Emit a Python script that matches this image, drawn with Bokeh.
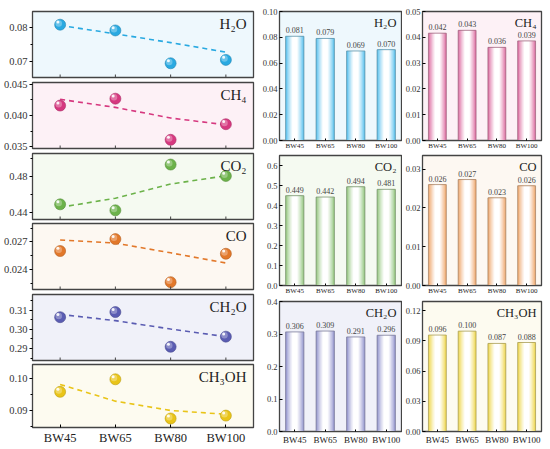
import math
from bokeh.plotting import figure
from bokeh.models import FactorRange, Range1d, FixedTicker, PrintfTickFormatter, Label, ColumnDataSource
from bokeh.layouts import row, column
from bokeh.transform import dodge
from bokeh.core.properties import value
from bokeh.embed import file_html
from bokeh.resources import INLINE

samples = ["BW45", "BW65", "BW80", "BW100"]
species = ["H₂O", "CH₄", "CO₂", "CO", "CH₂O", "CH₃OH"]

# mole fractions
h2o = [0.0808, 0.0791, 0.0694, 0.0704]
ch4 = [0.0416, 0.0427, 0.0361, 0.0386]
co2 = [0.4490, 0.4423, 0.4936, 0.4808]
co = [0.0260, 0.0273, 0.0226, 0.0257]
ch2o = [0.3064, 0.3091, 0.2909, 0.2962]
ch3oh = [0.0957, 0.0996, 0.0874, 0.0883]

# dashed trend lines
h2o_trend = [0.0806, 0.0781, 0.0755, 0.0727]
ch4_trend = [0.0426, 0.0413, 0.0396, 0.0385]
co2_trend = [0.4456, 0.4559, 0.4717, 0.4811]
co_trend = [0.0272, 0.02686, 0.0258, 0.02469]
ch2o_trend = [0.3079, 0.3046, 0.3002, 0.2962]
ch3oh_trend = [0.0980, 0.0928, 0.0899, 0.0887]

series = [h2o, ch4, co2, co, ch2o, ch3oh]
trends = [h2o_trend, ch4_trend, co2_trend, co_trend, ch2o_trend, ch3oh_trend]

left_ranges = [(0.0652, 0.0847), (0.0347, 0.0453), (0.432, 0.506),
               (0.0218, 0.0290), (0.2837, 0.3183), (0.0846, 0.1042)]
left_ticks = [[0.07, 0.08], [0.035, 0.040, 0.045], [0.44, 0.48],
              [0.024, 0.027], [0.29, 0.30, 0.31], [0.09, 0.10]]
left_fmt = ["%.2f", "%.3f", "%.2f", "%.3f", "%.2f", "%.2f"]

bar_tops = [0.10, 0.05, 0.65, 0.0335, 0.40, 0.129]
bar_ticks = [[0, 0.02, 0.04, 0.06, 0.08, 0.10], [0, 0.01, 0.02, 0.03, 0.04, 0.05],
             [0, 0.1, 0.2, 0.3, 0.4, 0.5, 0.6], [0, 0.01, 0.02, 0.03],
             [0, 0.1, 0.2, 0.3, 0.4], [0, 0.03, 0.06, 0.09, 0.12]]
bar_fmt = ["%.2f", "%.2f", "%.1f", "%.2f", "%.1f", "%.2f"]

point_colors = ["#29a9e1", "#d6387f", "#6cb24a", "#e2782a", "#5a5cb2", "#e9c418"]
bar_colors = ["#55c0ee", "#dc6a9f", "#92c67d", "#eea56a", "#9193cd", "#eed64a"]
bg_colors = ["#eef8fd", "#fdf1f6", "#f5faf1", "#fdf8f2", "#f0f1f9", "#fdfbf0"]

SERIF = "Liberation Serif"
FRAME = "#444444"


def hex2rgb(h):
    h = h.lstrip("#")
    return tuple(int(h[i:i + 2], 16) for i in (0, 2, 4))


def mix(c1, c2, t):
    a, b = hex2rgb(c1), hex2rgb(c2)
    return "#%02x%02x%02x" % tuple(round(a[k] + (b[k] - a[k]) * t) for k in range(3))


def minor_of(ticks):
    step = ticks[1] - ticks[0]
    out = [ticks[0] - step / 2]
    for a in ticks:
        out.append(a + step / 2)
    return out


def line_panel(i, height, top, bottom, last):
    lo, hi = left_ranges[i]
    p = figure(width=258, height=height, x_range=FactorRange(*samples), y_range=Range1d(lo, hi),
               output_backend="svg", toolbar_location=None,
               min_border_left=30, min_border_right=5, min_border_top=top, min_border_bottom=bottom,
               background_fill_color=bg_colors[i], border_fill_color="white",
               outline_line_color=FRAME, outline_line_width=1.3)
    p.grid.grid_line_color = None
    src = ColumnDataSource(dict(x=samples, y=series[i], t=trends[i], base=[lo] * len(samples)))
    c = point_colors[i]
    span = hi - lo
    p.line("x", "t", source=src, line_color=c, line_width=1.6, line_dash="5 4")
    p.scatter("x", "y", source=src, size=11, fill_color=c, line_color=mix(c, "#000000", 0.2), line_width=0.6)
    p.scatter(x=dodge("x", -0.025, range=p.x_range), y=dodge("y", span * 0.02, range=p.y_range),
              source=src, size=6.5, fill_color=mix(c, "#ffffff", 0.3), line_color=None)
    p.scatter(x=dodge("x", -0.04, range=p.x_range), y=dodge("y", span * 0.04, range=p.y_range),
              source=src, size=3, fill_color="white", fill_alpha=0.9, line_color=None)

    ya = p.yaxis[0]
    ya.ticker = FixedTicker(ticks=left_ticks[i], minor_ticks=minor_of(left_ticks[i]))
    ya.formatter = PrintfTickFormatter(format=left_fmt[i])
    ya.major_label_text_font = SERIF
    ya.major_label_text_font_size = "10.5px"
    ya.major_label_text_color = "#333333"
    ya.major_label_standoff = 2
    ya.major_tick_out = 3
    ya.major_tick_in = 0
    ya.minor_tick_out = 2
    ya.minor_tick_in = 0
    ya.axis_line_color = FRAME

    xa = p.xaxis[0]
    if last:
        xa.major_tick_in = 3
        xa.major_tick_out = 0
        xa.minor_tick_line_color = None
        xa.axis_line_color = FRAME
        xa.major_label_text_font = SERIF
        xa.major_label_text_font_size = "12.5px"
        xa.major_label_text_color = "#222222"
        xa.major_label_standoff = 3
    else:
        xa.visible = False
        # small category ticks on the panel's bottom edge
        p.scatter("x", "base", source=src, marker="dash", angle=math.pi / 2, size=6,
                  line_color=FRAME, line_width=1)

    p.add_layout(Label(x=4, y=hi, x_offset=-7, y_offset=-4, text=species[i], text_align="right",
                       text_baseline="top", text_font=SERIF, text_font_size="15px", text_color="#222222"))
    return p


def bar_panel(i, width, height, left, right, top, bottom, big):
    p = figure(width=width, height=height, x_range=FactorRange(*samples), y_range=Range1d(0, bar_tops[i]),
               output_backend="svg", toolbar_location=None,
               min_border_left=left, min_border_right=right, min_border_top=top, min_border_bottom=bottom,
               background_fill_color=bg_colors[i], border_fill_color="white",
               outline_line_color=FRAME, outline_line_width=1.3)
    p.grid.grid_line_color = None
    src = ColumnDataSource(dict(x=samples, y=series[i], lbl=["%.3f" % v for v in series[i]]))
    edge = bar_colors[i]
    n = 10
    for k in range(n):
        t = k / (n - 1)
        p.vbar(x="x", top="y", bottom=0, width=0.6 * (1 - 0.72 * t), source=src,
               fill_color=mix(edge, "#ffffff", t ** 0.8), line_color=None)
    p.vbar(x="x", top="y", bottom=0, width=0.6, source=src, fill_color=None,
           line_color=mix(edge, "#666666", 0.5), line_width=0.8)
    p.text(x="x", y="y", text="lbl", source=src, text_align="center", text_baseline="bottom",
           y_offset=-3, text_font=value(SERIF), text_font_size="8px", text_color="#444444")

    ya = p.yaxis[0]
    ya.ticker = FixedTicker(ticks=bar_ticks[i], minor_ticks=[])
    ya.formatter = PrintfTickFormatter(format=bar_fmt[i])
    ya.major_label_text_font = SERIF
    ya.major_label_text_font_size = "8.5px"
    ya.major_label_text_color = "#333333"
    ya.major_label_standoff = 2
    ya.major_tick_in = 3
    ya.major_tick_out = 0
    ya.minor_tick_line_color = None
    ya.axis_line_color = FRAME

    xa = p.xaxis[0]
    xa.major_tick_in = 2
    xa.major_tick_out = 0
    xa.minor_tick_line_color = None
    xa.axis_line_color = FRAME
    xa.major_label_text_font = SERIF
    xa.major_label_text_font_size = "9px" if big else "7px"
    xa.major_label_text_color = "#222222"
    xa.major_label_standoff = 3 if big else 1

    p.add_layout(Label(x=4, y=bar_tops[i], x_offset=-5, y_offset=-4, text=species[i], text_align="right",
                       text_baseline="top", text_font=SERIF, text_font_size="12.5px", text_color="#222222"))
    return p


lefts = [
    line_panel(0, 79, 11, 2, False),
    line_panel(1, 72, 3, 3, False),
    line_panel(2, 70, 2, 2, False),
    line_panel(3, 70, 2, 2, False),
    line_panel(4, 71, 3, 2, False),
    line_panel(5, 85, 2, 16, True),
]

row_specs = [(0, 1, 152, 11, 9, False), (2, 3, 145, 3, 10, False), (4, 5, 150, 4, 16, True)]
bar_rows = []
for a, b, h, tp, bt, big in row_specs:
    p1 = bar_panel(a, 144, h, 21, 1, tp, bt, big)
    p2 = bar_panel(b, 143, h, 17, 4, tp, bt, big)
    bar_rows.append(row(p1, p2, spacing=0))

layout = row(column(*lefts, spacing=0), column(*bar_rows, spacing=0), spacing=0)

open("out.html", "w").write(file_html(layout, INLINE))
